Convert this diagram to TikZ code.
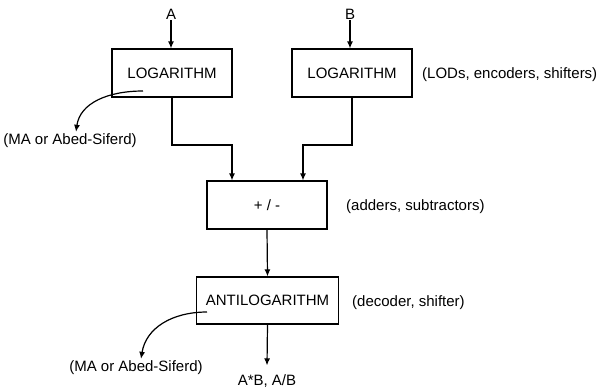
\documentclass[tikz,border=0pt]{standalone}
\usepackage{fontspec}
\setmainfont{Liberation Sans}
\usetikzlibrary{arrows.meta,calc}
\begin{document}
\begin{tikzpicture}[x=1pt,y=-1pt,
  every node/.style={font=\fontsize{15}{18}\selectfont, inner sep=1pt},
  blockbox/.style={draw, line width=1.2pt, minimum width=120pt, minimum height=48pt, inner sep=0pt},
  arr/.style={line width=1.2pt, -{Latex[length=7pt,width=6pt]}},
  wire/.style={line width=1.2pt}]
\useasboundingbox (0,0) rectangle (602,389);
% blocks
\node[blockbox] (L1) at (172,73) {LOGARITHM};
\node[blockbox] (L2) at (352,73) {LOGARITHM};
\node[blockbox] (S) at (267,205) {+ / -};
\node[blockbox, minimum width=142pt, minimum height=47pt] (AL) at (267.5,300.5) {ANTILOGARITHM};
% inputs and outputs
\node (A) at (171,14) {A};
\node (B) at (350,14) {B};
\node (out) at (267,381) {A*B, A/B};
% side labels
\node[anchor=west] (lod) at (421,75) {(LODs, encoders, shifters)};
\node[anchor=west] (add) at (345,207) {(adders, subtractors)};
\node[anchor=west] (dec) at (351,303) {(decoder, shifter)};
\node (ma1) at (70,141) {(MA or Abed-Siferd)};
\node (ma2) at (136,368) {(MA or Abed-Siferd)};
% connectors
\draw[arr] (A) -- (L1.north -| A);
\draw[arr] (B) -- (L2.north -| B);
\coordinate (j1) at (232,145);
\coordinate (j2) at (303,145);
\draw[arr] (L1.south) |- (j1) -- (j1 |- S.north);
\draw[arr] (L2.south) |- (j2) -- (j2 |- S.north);
\draw[arr] (S.south) -- (AL.north);
\draw[arr] (AL.south) -- ($(out.north)+(0,-8)$);
% curved side outputs
\coordinate (c1) at (143,91);
\coordinate (c2) at (207,312);
\draw[arr] (c1) .. controls (108,91) and (80,103) .. ($(ma1.north)+(6,-1)$);
\draw[arr] (c2) .. controls (172,312) and (146,328) .. ($(ma2.north)+(5,-1)$);
\end{tikzpicture}
\end{document}
